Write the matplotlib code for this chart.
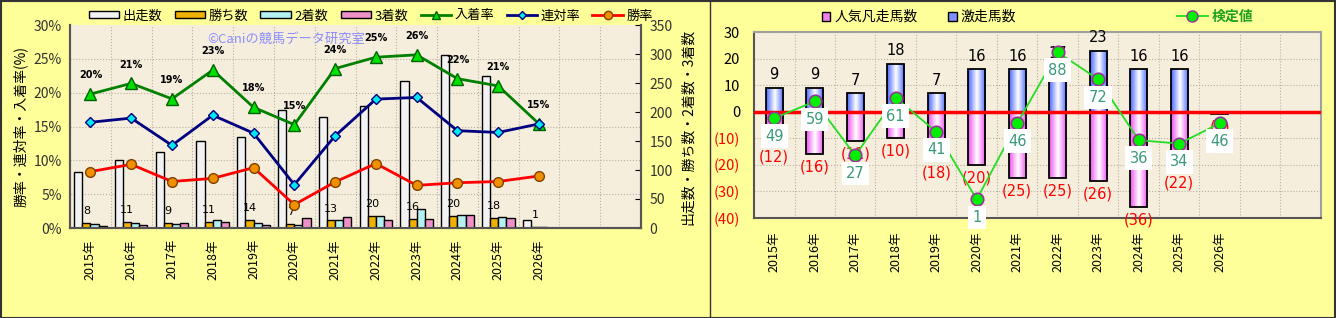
import numpy as np
import matplotlib
matplotlib.use('Agg')
import matplotlib.pyplot as plt
from matplotlib.patches import Patch, Rectangle
from matplotlib.lines import Line2D
from matplotlib.colors import LinearSegmentedColormap

plt.rcParams['font.family'] = ['Noto Sans CJK JP', 'DejaVu Sans']

# ---- data ----
years = ['2015年', '2016年', '2017年', '2018年', '2019年', '2020年', '2021年',
         '2022年', '2023年', '2024年', '2025年', '2026年']
runs = [96, 117, 131, 150, 157, 203, 191, 210, 254, 299, 262, 13]
wins = [8, 11, 9, 11, 14, 7, 13, 20, 16, 20, 18, 1]
second = [7, 8, 7, 14, 8, 6, 13, 20, 33, 23, 19, 1]
third = [4, 6, 9, 10, 6, 18, 19, 13, 16, 23, 18, 0]

gekisou = [9, 9, 7, 18, 7, 16, 16, 17, 23, 16, 16, 0]
bonsou = [-12, -16, -11, -10, -18, -20, -25, -25, -26, -36, -22, -1]
kentei = [49, 59, 27, 61, 41, 1, 46, 88, 72, 36, 34, 46]

n_slots = 14
BG = '#FFFF99'
PLOT_BG = '#F6EEDD'

runs = np.array(runs, float)
wins = np.array(wins, float)
second = np.array(second, float)
third = np.array(third, float)
win_rate = wins / runs * 100
ren_rate = (wins + second) / runs * 100
in_rate = (wins + second + third) / runs * 100
x = np.arange(1, len(years) + 1)

fig = plt.figure(figsize=(13.36, 3.18), dpi=100, facecolor=BG)


def shade(ax, bars, edge):
    cmap = LinearSegmentedColormap.from_list('g', [edge, 'white', edge])
    grad = np.linspace(0, 1, 64).reshape(1, -1)
    for b in bars:
        bx, by, bw, bh = b.get_x(), b.get_y(), b.get_width(), b.get_height()
        if bh == 0:
            continue
        im = ax.imshow(grad, extent=[bx, bx + bw, by, by + bh], aspect='auto',
                       cmap=cmap, zorder=b.get_zorder() - 0.1, interpolation='bilinear')
        im.set_clip_path(b)


# ================= left chart =================
axc = fig.add_axes([70 / 1336, 90 / 318, 571 / 1336, 203 / 318])
axp = axc.twinx()
axp.yaxis.set_label_position('left')
axp.yaxis.tick_left()
axc.yaxis.tick_right()
axc.yaxis.set_label_position('right')
axp.set_zorder(axc.get_zorder() + 1)
axp.patch.set_visible(False)
axc.set_facecolor(PLOT_BG)

w = 0.2
b_runs = axc.bar(x - 0.3, runs, w, color='#F2F2F2', edgecolor='black', lw=1, zorder=3)
shade(axc, b_runs, '#B8B8B8')
b_win = axc.bar(x - 0.1, wins, w, color='#F0B000', edgecolor='black', lw=1, zorder=3)
axc.bar(x + 0.1, second, w, color='#B4F0F0', edgecolor='black', lw=1, zorder=3)
axc.bar(x + 0.3, third, w, color='#F090C8', edgecolor='black', lw=1, zorder=3)
for xi, v in zip(x, wins):
    axc.annotate('%d' % v, (xi - 0.1, v), xytext=(0, 5), textcoords='offset points',
                 ha='center', va='bottom', fontsize=8, family='DejaVu Sans', zorder=4)

axc.set_xlim(0.5, n_slots + 0.5)
axc.set_ylim(0, 350)
axc.set_yticks(np.arange(0, 351, 50))
axc.set_yticks(np.arange(0, 31, 5) * 350 / 30, minor=True)
axc.set_xticks(x)
axc.set_xticklabels(years, rotation=90, fontsize=9)
axc.set_xticks(np.arange(1.5, n_slots, 1), minor=True)
axc.tick_params(axis='x', which='both', length=0, pad=8)
axc.tick_params(axis='y', which='major', direction='in', length=4, labelsize=10,
                labelcolor='#333333', pad=6)
axc.tick_params(axis='y', which='minor', length=0)
axc.grid(which='minor', color='#B8B0A0', ls=':', lw=0.8, zorder=0)
axc.set_ylabel('出走数・勝ち数・2着数・3着数', fontsize=10, labelpad=6)

axp.plot(x, in_rate, color='#008000', lw=2, marker='^', ms=8, mfc='#00E000',
         mec='#006000', zorder=5)
axp.plot(x, ren_rate, color='#000080', lw=2, marker='D', ms=5, mfc='#00E8F0',
         mec='#000080', zorder=5)
axp.plot(x, win_rate, color='#FF0000', lw=2, marker='o', ms=7, mfc='#F09000',
         mec='#804000', zorder=5)
for xi, v in zip(x, in_rate):
    axp.annotate('%d%%' % round(v), (xi, v), xytext=(0, 10), textcoords='offset points',
                 ha='center', va='bottom', fontsize=7, fontweight='bold',
                 family='DejaVu Sans', zorder=6)
axp.set_ylim(0, 30)
axp.set_yticks(np.arange(0, 31, 5))
axp.set_yticklabels(['%d%%' % v for v in range(0, 31, 5)])
axp.tick_params(axis='y', length=0, labelsize=10, labelcolor='#333333', pad=6)
axp.set_ylabel('勝率・連対率・入着率(%)', fontsize=10, labelpad=4)
axp.text(0.24, 0.93, '©Caniの競馬データ研究室', transform=axp.transAxes, fontsize=9.5,
         color='#8C8CFF', ha='left', va='center', zorder=2)

for a in (axc, axp):
    a.spines['top'].set_visible(False)
    for s in ('left', 'right', 'bottom'):
        a.spines[s].set_color('#555555')
        a.spines[s].set_linewidth(1.5)

left_handles = [
    Patch(facecolor='#F2F2F2', edgecolor='black', label='出走数'),
    Patch(facecolor='#F0B000', edgecolor='black', label='勝ち数'),
    Patch(facecolor='#B4F0F0', edgecolor='black', label='2着数'),
    Patch(facecolor='#F090C8', edgecolor='black', label='3着数'),
    Line2D([], [], color='#008000', lw=2, marker='^', ms=6, mfc='#00E000', mec='#006000', label='入着率'),
    Line2D([], [], color='#000080', lw=2, marker='D', ms=4, mfc='#00E8F0', mec='#000080', label='連対率'),
    Line2D([], [], color='#FF0000', lw=2, marker='o', ms=6, mfc='#F09000', mec='#804000', label='勝率'),
]
fig.legend(handles=left_handles, loc='center left', bbox_to_anchor=(82 / 1336, 1 - 16 / 318),
           ncol=7, frameon=False, fontsize=9.5, handlelength=2.3, handleheight=0.45,
           handletextpad=0.3, columnspacing=0.9, borderpad=0)

# ================= right chart =================
axr = fig.add_axes([754 / 1336, 100 / 318, 567 / 1336, 186 / 318])
axr.set_facecolor(PLOT_BG)
wb = 0.42
b_pos = axr.bar(x, gekisou, wb, color='none', edgecolor='black', lw=1.3, zorder=3)
shade(axr, b_pos, '#4A66FF')
b_neg = axr.bar(x, bonsou, wb, color='none', edgecolor='black', lw=1.3, zorder=3)
shade(axr, b_neg, '#F050F0')
axr.axhline(0, color='#FF0000', lw=2.5, zorder=4)
for xi, v in zip(x, gekisou):
    if v > 0:
        axr.annotate('%d' % v, (xi, v), xytext=(0, 4), textcoords='offset points',
                     ha='center', va='bottom', fontsize=10.5, family='DejaVu Sans', zorder=5)
for xi, v in zip(x, bonsou):
    axr.annotate('(%d)' % -v, (xi, v), xytext=(0, -4), textcoords='offset points',
                 ha='center', va='top', fontsize=10.5, color='#FF0000',
                 family='DejaVu Sans', zorder=5, annotation_clip=False)

axk = axr.twinx()
axk.set_ylim(-10, 100)
axk.plot(x, kentei, color='#22DD22', lw=1.3, marker='o', ms=9, mfc='#00EE00',
         mec='#993399', mew=1.2, zorder=6)
for xi, v in zip(x, kentei):
    axk.annotate('%d' % v, (xi, v), xytext=(0, -13), textcoords='offset points',
                 ha='center', va='center', fontsize=10.5, color='#3A9A78',
                 family='DejaVu Sans', zorder=7,
                 bbox=dict(boxstyle='square,pad=0.3', fc='white', ec='none'))
axk.set_yticks([])
axk.axis('off')

axr.set_xlim(0.5, n_slots + 0.5)
axr.set_ylim(-40, 30)
yt = np.arange(-40, 31, 10)
axr.set_yticks(yt)
axr.set_yticklabels([('(%d)' % -v) if v < 0 else '%d' % v for v in yt], fontsize=10.5)
for lab, v in zip(axr.get_yticklabels(), yt):
    lab.set_color('#FF0000' if v < 0 else 'black')
axr.set_xticks(x)
axr.set_xticklabels(years, rotation=90, fontsize=9)
axr.set_xticks(np.arange(1.5, n_slots, 1), minor=True)
axr.tick_params(axis='x', which='both', length=0, pad=10)
axr.tick_params(axis='y', length=0, pad=10)
axr.grid(which='both', color='#B8B0A0', ls=':', lw=0.8, zorder=0)
axr.grid(which='major', axis='x', visible=False)
for s in ('left', 'bottom'):
    axr.spines[s].set_color('#555555')
    axr.spines[s].set_linewidth(1.5)
for s in ('top', 'right'):
    axr.spines[s].set_color('#A0A0A0')
    axr.spines[s].set_linewidth(1.5)

right_handles = [
    Patch(facecolor='#F080F0', edgecolor='black', label='人気凡走馬数'),
    Patch(facecolor='#8090FF', edgecolor='black', label='激走馬数'),
]
fig.legend(handles=right_handles, loc='center left', bbox_to_anchor=(815 / 1336, 1 - 17 / 318),
           ncol=2, frameon=False, fontsize=10, handlelength=0.6, handleheight=0.6,
           handletextpad=0.3, columnspacing=2.2, borderpad=0)
leg_k = fig.legend(handles=[Line2D([], [], color='#22DD22', lw=1.3, marker='o', ms=8,
                                   mfc='#00EE00', mec='#993399', label='検定値')],
                   loc='center left', bbox_to_anchor=(1170 / 1336, 1 - 17 / 318),
                   frameon=False, fontsize=10, handlelength=2.2, handletextpad=0.3, borderpad=0)
for t in leg_k.get_texts():
    t.set_color('#20A020')
    t.set_fontweight('bold')

# frame and separator
fig.add_artist(Rectangle((0.5 / 1336, 0.5 / 318), 1 - 1.5 / 1336, 1 - 1.5 / 318,
                         transform=fig.transFigure, fill=False, ec='#333333', lw=1.5))
fig.add_artist(Line2D([710 / 1336, 710 / 1336], [0, 1], transform=fig.transFigure,
                      color='#333333', lw=1))

fig.savefig('out.png', dpi=100, facecolor=BG)
